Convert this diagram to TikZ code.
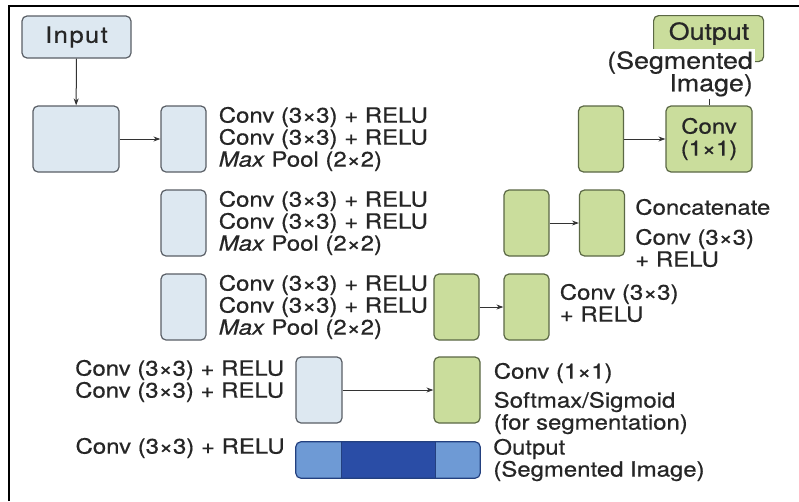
\documentclass[tikz,border=0pt]{standalone}
\usepackage{fontspec}
\setmainfont{TeX Gyre Heros}[FakeStretch=1.14, FakeBold=0.5]
\usetikzlibrary{arrows.meta}
\definecolor{lbfill}{HTML}{DDE8F1}
\definecolor{lbdraw}{HTML}{5A5F66}
\definecolor{grfill}{HTML}{CADD9C}
\definecolor{grdraw}{HTML}{5B6845}
\definecolor{barlight}{HTML}{6E9AD5}
\definecolor{bardark}{HTML}{2A4DA6}
\definecolor{bardraw}{HTML}{23407F}
\definecolor{txt}{HTML}{262626}
\tikzset{
  blbox/.style={draw=lbdraw, fill=lbfill, line width=1.2pt, rounded corners=5pt, inner sep=0pt},
  grbox/.style={draw=grdraw, fill=grfill, line width=1.2pt, rounded corners=5pt, inner sep=0pt},
  tall/.style={minimum width=45pt, minimum height=66pt},
  lbl/.style={text=txt, inner sep=0pt, font=\fontsize{21}{22}\selectfont},
  biglbl/.style={text=txt, inner sep=0pt, font=\fontsize{23.5}{22.5}\selectfont},
  conn/.style={draw=black!80, line width=1pt, -{Stealth[length=7pt,width=5pt]}},
  plain/.style={draw=black!80, line width=1pt}
}
\begin{document}
\begin{tikzpicture}[x=1pt,y=-1pt]
\useasboundingbox (0,0) rectangle (799,501);
\fill[white] (0,0) rectangle (799,501);
% frame
\draw[line width=2.5pt] (9,501) -- (9,6) -- (799,6);

% left (encoder) column
\node[blbox, minimum width=109pt, minimum height=42pt, lbl] (inp) at (76.5,37) {\addfontfeature{LetterSpace=6}\fontsize{22.5}{22}\selectfont Input};
\node[blbox, minimum width=86pt, minimum height=66pt] (big) at (76,139) {};
\node[blbox, tall] (b1) at (183.5,139) {};
\node[blbox, tall] (b2) at (183.5,223) {};
\node[blbox, tall] (b3) at (183.5,307) {};
\node[blbox, minimum width=46pt, minimum height=66pt] (b4) at (319,390) {};

\draw[conn] (inp) -- (big);
\draw[conn] (big) -- (b1);

\node[lbl, anchor=west, align=left] (t1) at ([xshift=12pt]b1.east) {Conv (3×3) + RELU\\Conv (3×3) + RELU\\\textit{Max} Pool (2×2)};
\node[lbl, anchor=west, align=left] (t2) at ([xshift=12pt]b2.east) {Conv (3×3) + RELU\\Conv (3×3) + RELU\\\textit{Max} Pool (2×2)};
\node[lbl, anchor=west, align=left] (t3) at ([xshift=12pt]b3.east) {Conv (3×3) + RELU\\Conv (3×3) + RELU\\\textit{Max} Pool (2×2)};
\node[lbl, anchor=east, align=right] (t4) at ([xshift=-11pt,yshift=9pt]b4.west) {Conv (3×3) + RELU\\Conv (3×3) + RELU};

% bottleneck bar
\node[inner sep=0pt, minimum width=184pt, minimum height=36pt] (bar) at (388,460) {};
\begin{scope}
  \clip[rounded corners=5pt] (bar.north west) rectangle (bar.south east);
  \fill[barlight] (bar.north west) rectangle (bar.south east);
  \fill[bardark] ([xshift=46pt]bar.north west) rectangle ([xshift=-45pt]bar.south east);
  \draw[bardraw, line width=1.2pt] ([xshift=46pt]bar.north west) -- ([xshift=46pt]bar.south west);
  \draw[bardraw, line width=1.2pt] ([xshift=-45pt]bar.north east) -- ([xshift=-45pt]bar.south east);
\end{scope}
\draw[bardraw, line width=1.2pt, rounded corners=5pt] (bar.north west) rectangle (bar.south east);
\node[lbl, anchor=east] (t5) at ([xshift=-11pt,yshift=12pt]bar.west) {Conv (3×3) + RELU};

% right (decoder) column
\node[grbox, minimum width=46pt, minimum height=66pt] (g1) at (457,390) {};
\node[grbox, tall] (g2) at (456.5,307) {};
\node[grbox, tall] (g3) at (526.5,307) {};
\node[grbox, tall] (g4) at (526.5,223) {};
\node[grbox, tall] (g5) at (602,223) {};
\node[grbox, tall] (g6) at (601,139) {};
\node[grbox, minimum width=86pt, minimum height=66pt, lbl, align=center] (c11) at (709,139) {Conv\\(1×1)};

\draw[conn] (b4) -- (g1);
\draw[conn] (g2) -- (g3);
\draw[conn] (g4) -- (g5);
\draw[conn] (g6) -- (c11);

\node[lbl, anchor=west, align=left] (r3) at ([xshift=10pt,yshift=4pt]g3.east) {Conv (3×3)\\+ RELU};
\node[lbl, anchor=west] (r2a) at ([xshift=10pt,yshift=16pt]g5.east) {Concatenate};
\node[lbl, anchor=west, align=left] (r2b) at ([xshift=10pt,yshift=-25pt]g5.east) {Conv (3×3)\\+ RELU};
\node[lbl, anchor=west] (r1a) at ([xshift=13pt,yshift=17pt]g1.east) {Conv (1×1)};
\node[lbl, anchor=west, align=left] (r1b) at ([xshift=13pt,yshift=-23pt]g1.east) {Softmax/Sigmoid\\(for segmentation)};
\node[lbl, anchor=west, align=left] (r0) at ([xshift=13pt]bar.east) {Output\\(Segmented Image)};

% top-right output box
\node[grbox, minimum width=110pt, minimum height=46pt, anchor=north west] (outbox) at (653,15) {};
\node[biglbl, anchor=north] (outtitle) at (709,22) {Output};
\node[biglbl, fill=white, inner sep=2pt, anchor=north east, align=right] (outtxt) at (755,49) {(Segmented\\Image)};
\draw[plain] (c11.north) -- (c11.north |- outtxt.south);
\end{tikzpicture}
\end{document}
